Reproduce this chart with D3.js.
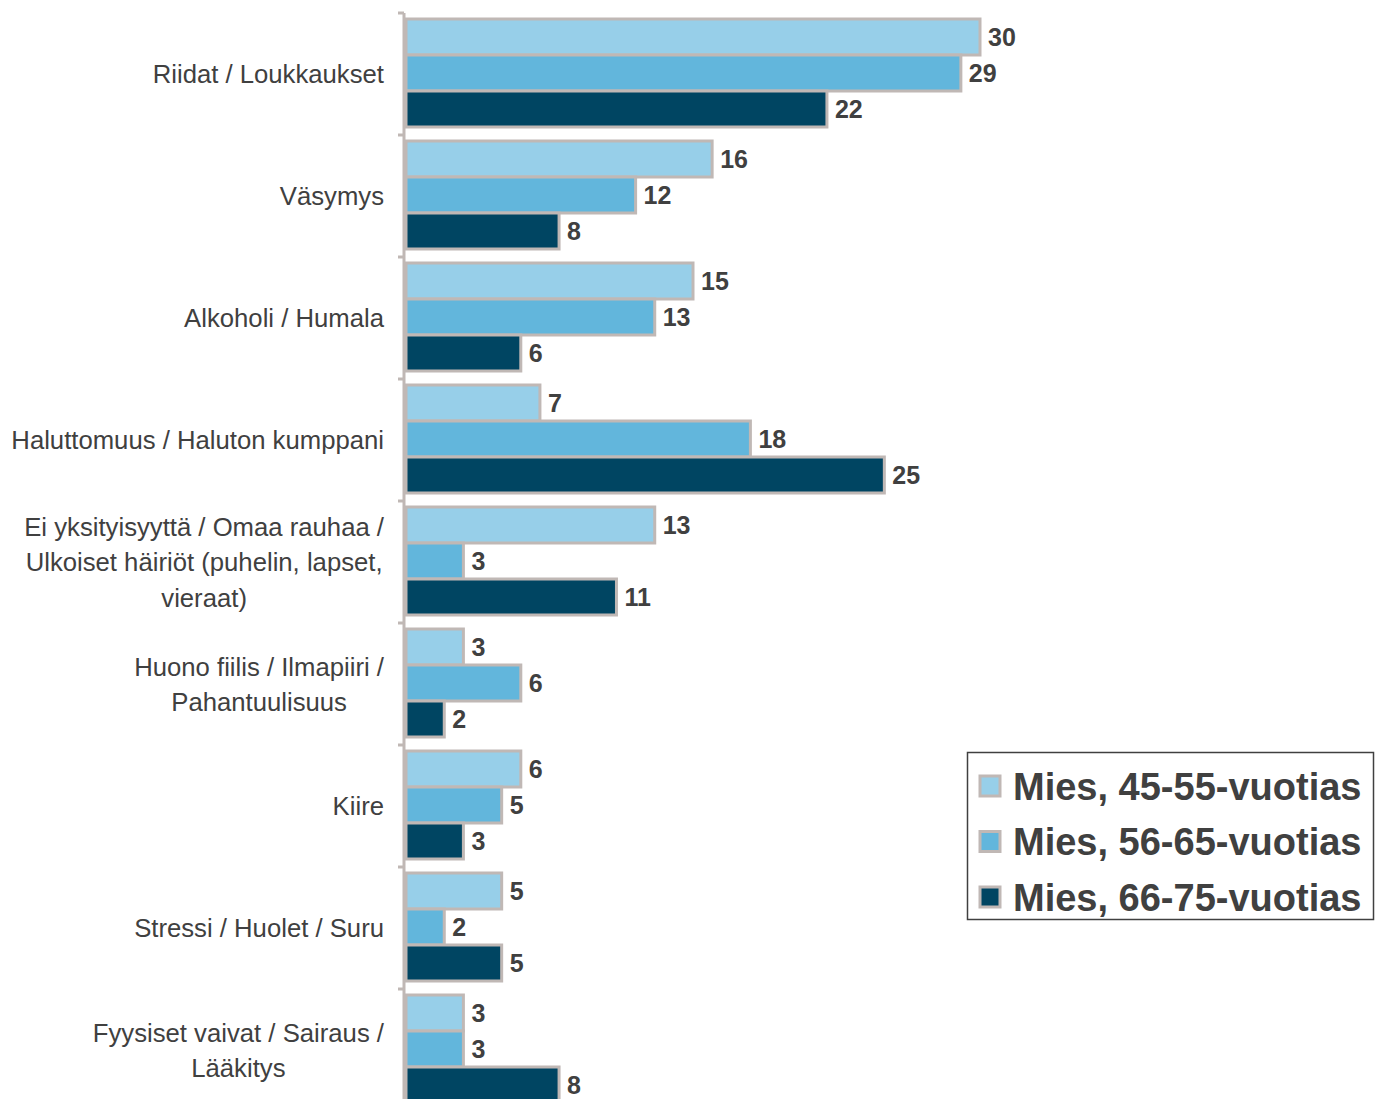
<!DOCTYPE html>
<html>
<head>
<meta charset="utf-8">
<script src="https://cdn.jsdelivr.net/npm/d3@7"></script>
<style>
  body { margin: 0; background: #fff; }
  svg { display: block; font-family: "Liberation Sans", Arial, sans-serif; }
</style>
</head>
<body>
<div id="chart"></div>
<script>
const categories = [
  ["Riidat / Loukkaukset"],
  ["Väsymys"],
  ["Alkoholi / Humala"],
  ["Haluttomuus / Haluton kumppani"],
  ["Ei yksityisyyttä / Omaa rauhaa /", "Ulkoiset häiriöt (puhelin, lapset,", "vieraat)"],
  ["Huono fiilis / Ilmapiiri /", "Pahantuulisuus"],
  ["Kiire"],
  ["Stressi / Huolet / Suru"],
  ["Fyysiset vaivat / Sairaus /", "Lääkitys"]
];
const seriesNames = ["Mies, 45-55-vuotias", "Mies, 56-65-vuotias", "Mies, 66-75-vuotias"];
const age45 = [30, 16, 15, 7, 13, 3, 6, 5, 3];
const age56 = [29, 12, 13, 18, 3, 6, 5, 2, 3];
const age66 = [22, 8, 6, 25, 11, 2, 3, 5, 8];
const colors = ["#97cfe9", "#62b6dc", "#004562"];

const values = [age45, age56, age66];
const width = 1376, height = 1099;
const borderColor = "#c0b8b5";
const textColor = "#404040";
const labelRight = 384;

const svg = d3.select("#chart").append("svg")
  .attr("width", width)
  .attr("height", height);

const x = d3.scaleLinear().domain([0, 30]).range([406, 980]);

const y = d3.scaleBand()
  .domain(d3.range(categories.length))
  .range([13, 13 + 122 * categories.length])
  .paddingInner(0);

const inner = d3.scaleBand()
  .domain(d3.range(seriesNames.length))
  .range([6, 114]);

// bars
const groups = svg.selectAll(".grp")
  .data(categories)
  .enter().append("g")
  .attr("class", "grp")
  .attr("transform", (d, i) => `translate(0,${y(i)})`);

groups.each(function(d, i) {
  const g = d3.select(this);
  seriesNames.forEach((s, j) => {
    const v = values[j][i];
    g.append("rect")
      .attr("x", x(0))
      .attr("y", inner(j))
      .attr("width", x(v) - x(0))
      .attr("height", inner.bandwidth())
      .attr("fill", colors[j])
      .attr("stroke", borderColor)
      .attr("stroke-width", 3);
  });
  seriesNames.forEach((s, j) => {
    const v = values[j][i];
    g.append("text")
      .attr("x", x(v) + 8)
      .attr("y", inner(j) + inner.bandwidth() / 2)
      .attr("dy", "0.36em")
      .style("font-size", "25px")
      .style("font-weight", "bold")
      .attr("fill", textColor)
      .text(v);
  });

  // category label, lines centred within a right-aligned block
  const lineH = 35.5;
  const n = d.length;
  const cy = y.bandwidth() / 2;
  const t = g.append("text")
    .attr("text-anchor", "middle")
    .style("font-size", "25.7px")
    .attr("fill", textColor);
  const spans = d.map((line, k) => t.append("tspan")
    .attr("y", cy + (k - (n - 1) / 2) * lineH)
    .attr("dy", "0.36em")
    .text(line));
  const maxW = d3.max(spans, sp => sp.node().getComputedTextLength());
  spans.forEach(sp => sp.attr("x", labelRight - maxW / 2));
});

// axis line with ticks
const axisG = svg.append("g");
axisG.append("line")
  .attr("x1", 404).attr("x2", 404)
  .attr("y1", y.range()[0]).attr("y2", y.range()[1])
  .attr("stroke", borderColor)
  .attr("stroke-width", 3);
axisG.selectAll(".tk")
  .data(d3.range(categories.length + 1))
  .enter().append("line")
  .attr("x1", 398).attr("x2", 404)
  .attr("y1", i => y.range()[0] + i * y.step())
  .attr("y2", i => y.range()[0] + i * y.step())
  .attr("stroke", borderColor)
  .attr("stroke-width", 3);

// legend
const legend = svg.append("g");
legend.append("rect")
  .attr("x", 967.5).attr("y", 752.5)
  .attr("width", 406).attr("height", 167)
  .attr("fill", "#fff")
  .attr("stroke", "#404040")
  .attr("stroke-width", 1.5);

const ly = d3.scalePoint().domain(d3.range(seriesNames.length)).range([786, 897]);
seriesNames.forEach((s, j) => {
  legend.append("rect")
    .attr("x", 980).attr("y", ly(j) - 10)
    .attr("width", 20).attr("height", 20)
    .attr("fill", colors[j])
    .attr("stroke", borderColor)
    .attr("stroke-width", 3);
  legend.append("text")
    .attr("x", 1013)
    .attr("y", ly(j))
    .attr("dy", "0.36em")
    .style("font-size", "38px")
    .style("font-weight", "bold")
    .attr("fill", textColor)
    .text(s);
});
</script>
</body>
</html>
